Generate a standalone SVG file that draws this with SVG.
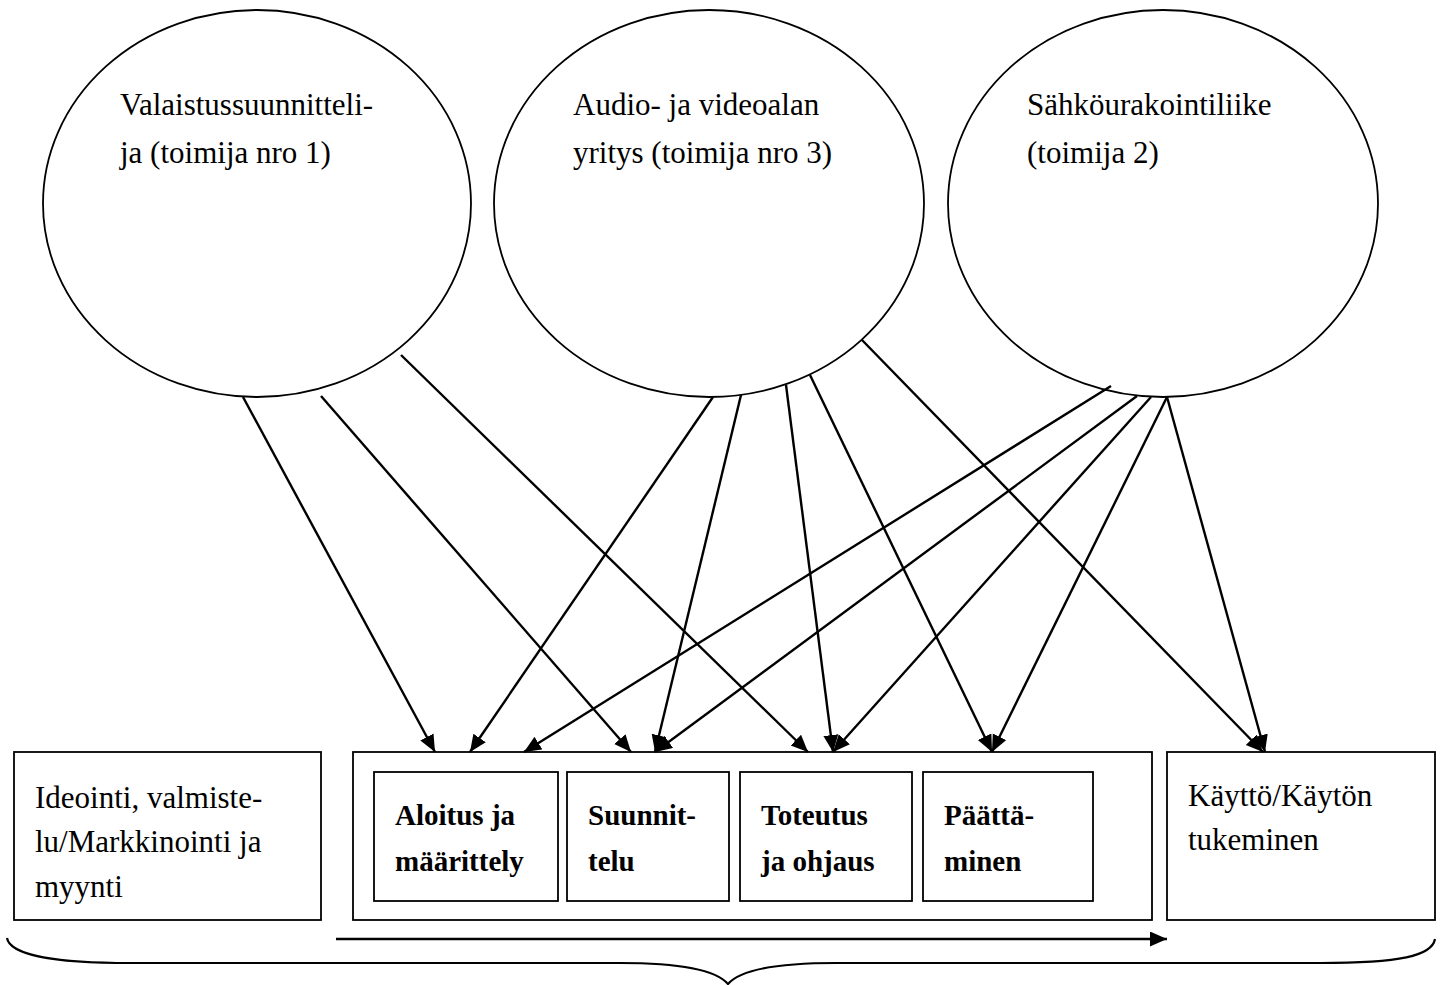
<svg xmlns="http://www.w3.org/2000/svg" width="1440" height="985" viewBox="0 0 1440 985">
<style>
.shape{fill:#fff;stroke:#000;stroke-width:1.8}
.box{fill:none;stroke:#000;stroke-width:1.8}
.t{font-family:"Liberation Serif","Times New Roman",serif;font-size:31px;fill:#000}
.b{font-family:"Liberation Serif","Times New Roman",serif;font-size:29px;font-weight:bold;fill:#000}
.c line{stroke:#000;stroke-width:2.4;marker-end:url(#ah)}
</style>
<defs>
<marker id="ah" markerUnits="userSpaceOnUse" markerWidth="18" markerHeight="16" refX="17" refY="7.5" orient="auto">
<path d="M0,0 L17,7.5 L0,15 z" fill="#000"/>
</marker>
</defs>
<rect width="1440" height="985" fill="#fff"/>
<g id="toimija1">
<ellipse class="shape" cx="257" cy="203.5" rx="214" ry="193.5"/>
<text class="t" x="120" y="115">Valaistussuunnitteli-</text>
<text class="t" x="120" y="163">ja (toimija nro 1)</text>
</g>
<g id="toimija3">
<ellipse class="shape" cx="709" cy="203.5" rx="215" ry="193.5"/>
<text class="t" x="573" y="115">Audio- ja videoalan</text>
<text class="t" x="573" y="163">yritys (toimija nro 3)</text>
</g>
<g id="toimija2">
<ellipse class="shape" cx="1163" cy="203.5" rx="215" ry="193.5"/>
<text class="t" x="1027" y="115">Sähköurakointiliike</text>
<text class="t" x="1027" y="163">(toimija 2)</text>
</g>
<g id="ideointi">
<rect class="box" x="14" y="752" width="307" height="168"/>
<text class="t" x="35" y="808">Ideointi, valmiste-</text>
<text class="t" x="35" y="852">lu/Markkinointi ja</text>
<text class="t" x="35" y="897">myynti</text>
</g>
<g id="projekti">
<rect class="box" x="353" y="752" width="799" height="168"/>
</g>
<g id="aloitus">
<rect class="box" x="374" y="772" width="184" height="129"/>
<text class="b" x="395" y="825">Aloitus ja</text>
<text class="b" x="395" y="871">määrittely</text>
</g>
<g id="suunnittelu">
<rect class="box" x="567" y="772" width="162" height="129"/>
<text class="b" x="588" y="825">Suunnit-</text>
<text class="b" x="588" y="871">telu</text>
</g>
<g id="toteutus">
<rect class="box" x="740" y="772" width="172" height="129"/>
<text class="b" x="761" y="825">Toteutus</text>
<text class="b" x="761" y="871">ja ohjaus</text>
</g>
<g id="paattaminen">
<rect class="box" x="923" y="772" width="170" height="129"/>
<text class="b" x="944" y="825">Päättä-</text>
<text class="b" x="944" y="871">minen</text>
</g>
<g id="kaytto">
<rect class="box" x="1167" y="752" width="268" height="168"/>
<text class="t" x="1188" y="806">Käyttö/Käytön</text>
<text class="t" x="1188" y="850">tukeminen</text>
</g>
<g id="connectors" class="c">
<line x1="243" y1="397" x2="435" y2="752"/>
<line x1="321" y1="396" x2="631" y2="752"/>
<line x1="401" y1="355" x2="808" y2="752"/>
<line x1="713" y1="397" x2="470" y2="752"/>
<line x1="741" y1="395" x2="655" y2="752"/>
<line x1="786" y1="385" x2="833" y2="752"/>
<line x1="810" y1="375" x2="992" y2="752"/>
<line x1="862" y1="340" x2="1263" y2="752"/>
<line x1="1111" y1="386" x2="524" y2="752"/>
<line x1="1137" y1="396" x2="655" y2="752"/>
<line x1="1151" y1="397" x2="833" y2="752"/>
<line x1="1167" y1="397" x2="992" y2="752"/>
<line x1="1167" y1="397" x2="1265" y2="752"/>
<line x1="336" y1="939" x2="1167" y2="939"/>
</g>
<g id="brace">
<path d="M7,938 C10,956 60,963 130,963 L620,963 C680,963 716,970 728,984 C740,970 776,963 836,963 L1320,963 C1400,963 1432,956 1435,939" fill="none" stroke="#000" stroke-width="2.2"/>
</g>
</svg>
